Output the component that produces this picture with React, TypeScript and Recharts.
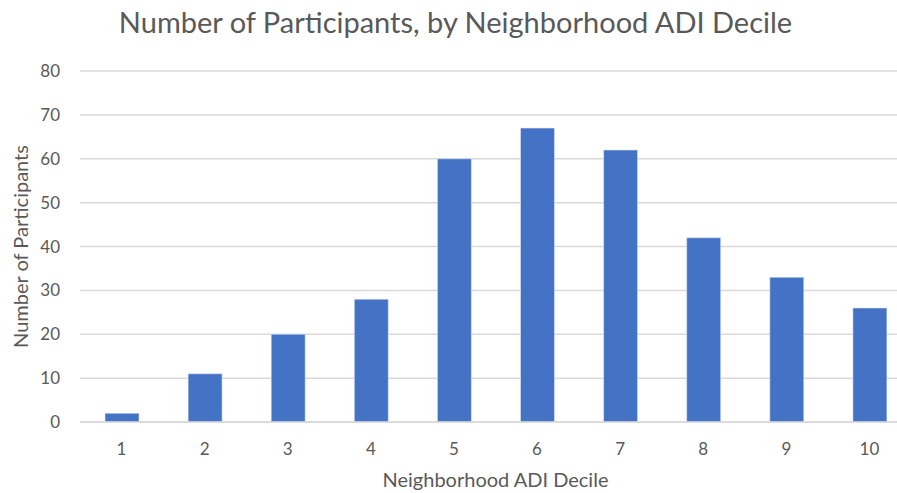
import { FC } from 'react';
import { BarChart, Bar, XAxis, YAxis, CartesianGrid, Label } from 'recharts';

const deciles = ['1', '2', '3', '4', '5', '6', '7', '8', '9', '10'];
const participants = [2, 11, 20, 28, 60, 67, 62, 42, 33, 26];
const yTicks = [0, 10, 20, 30, 40, 50, 60, 70, 80];

const data = deciles.map((d, i) => ({ name: d, total: participants[i] }));

const FONT = 'Lato, "Open Sans", sans-serif';
const TEXT = '#595959';

const App: FC = () => {
  return (
    <div
      style={{
        position: 'absolute',
        left: 0,
        top: 0,
        width: 897,
        height: 493,
        overflow: 'hidden',
        background: '#fff',
        fontFamily: FONT,
      }}
    >
      <div
        style={{
          position: 'absolute',
          left: 0,
          top: 4,
          width: 911,
          textAlign: 'center',
          fontSize: 29,
          color: TEXT,
        }}
      >
        Number of Participants, by Neighborhood ADI Decile
      </div>
      <BarChart
        width={911}
        height={493}
        data={data}
        margin={{ top: 71, right: 0, left: 0, bottom: 0 }}
        barSize={34}
        style={{ position: 'absolute', left: 0, top: 0 }}
      >
        <CartesianGrid vertical={false} stroke="#d9d9d9" strokeWidth={1.5} />
        <XAxis
          dataKey="name"
          height={71}
          tickLine={false}
          tickSize={0}
          tickMargin={21}
          axisLine={{ stroke: '#d9d9d9', strokeWidth: 1.5 }}
          tick={{ fill: TEXT, fontSize: 17, fontFamily: FONT }}
        >
          <Label
            value="Neighborhood ADI Decile"
            position="insideBottom"
            offset={6}
            style={{ fill: TEXT, fontSize: 20, fontFamily: FONT }}
          />
        </XAxis>
        <YAxis
          width={80}
          domain={[0, 80]}
          ticks={yTicks}
          interval={0}
          axisLine={false}
          tickLine={false}
          tickSize={0}
          tickMargin={20}
          tick={{ fill: TEXT, fontSize: 17, fontFamily: FONT }}
        >
          <Label
            content={({ viewBox }: any) => {
              const cy = viewBox.y + viewBox.height / 2;
              return (
                <text
                  x={20}
                  y={cy}
                  transform={`rotate(-90, 20, ${cy})`}
                  textAnchor="middle"
                  dominantBaseline="central"
                  fill={TEXT}
                  fontSize={20}
                  fontFamily={FONT}
                >
                  Number of Participants
                </text>
              );
            }}
          />
        </YAxis>
        <Bar
          dataKey="total"
          fill="#4472C4"
          stroke="#e3e9f5"
          strokeWidth={0.6}
          isAnimationActive={false}
        />
      </BarChart>
    </div>
  );
};

export default App;
